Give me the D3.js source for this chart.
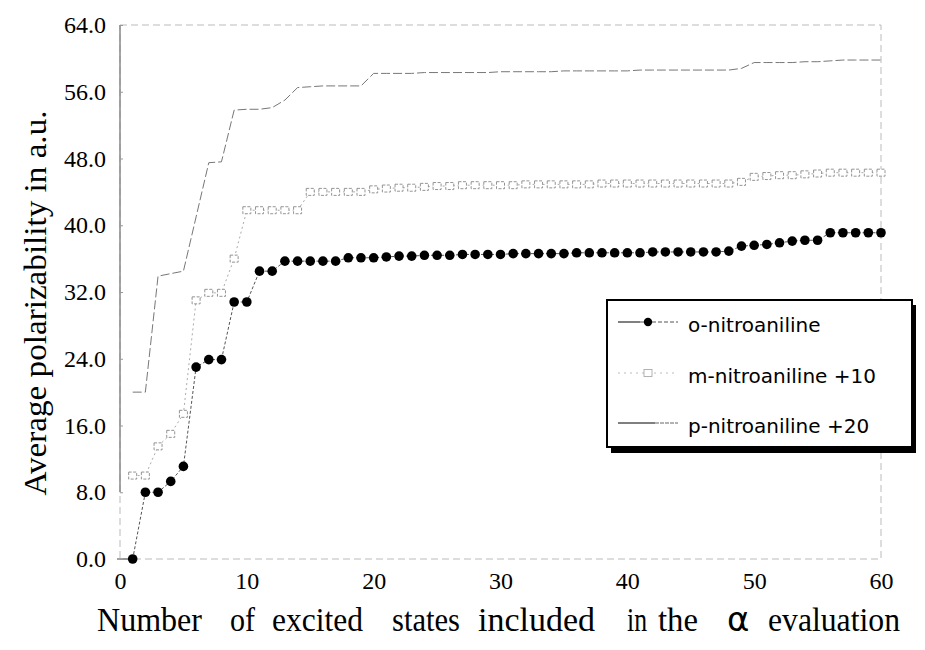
<!DOCTYPE html>
<html>
<head>
<meta charset="utf-8">
<script src="https://cdn.jsdelivr.net/npm/d3@7/dist/d3.min.js"></script>
<style>
body { margin: 0; background: #fff; }
</style>
</head>
<body>
<script>
var states = [1, 2, 3, 4, 5, 6, 7, 8, 9, 10, 11, 12, 13, 14, 15, 16, 17, 18, 19, 20,
              21, 22, 23, 24, 25, 26, 27, 28, 29, 30, 31, 32, 33, 34, 35, 36, 37, 38, 39, 40,
              41, 42, 43, 44, 45, 46, 47, 48, 49, 50, 51, 52, 53, 54, 55, 56, 57, 58, 59, 60];

var orthoValues = [0.0, 8.0, 8.0, 9.3, 11.1, 23.0, 23.9, 23.9, 30.8, 30.8,
                   34.5, 34.5, 35.7, 35.7, 35.7, 35.7, 35.7, 36.1, 36.1, 36.1,
                   36.2, 36.3, 36.3, 36.4, 36.4, 36.4, 36.5, 36.5, 36.5, 36.5,
                   36.6, 36.6, 36.6, 36.6, 36.6, 36.7, 36.7, 36.7, 36.7, 36.7,
                   36.7, 36.8, 36.8, 36.8, 36.8, 36.8, 36.8, 36.9, 37.5, 37.6,
                   37.7, 37.9, 38.1, 38.2, 38.2, 39.1, 39.1, 39.1, 39.1, 39.1];

var metaValues = [10.0, 10.0, 13.5, 15.0, 17.4, 31.0, 31.9, 31.9, 36.0, 41.8,
                  41.8, 41.8, 41.8, 41.8, 44.0, 44.0, 44.0, 44.0, 44.0, 44.3,
                  44.4, 44.5, 44.5, 44.6, 44.7, 44.7, 44.8, 44.8, 44.8, 44.8,
                  44.8, 44.9, 44.9, 44.9, 44.9, 44.9, 44.9, 45.0, 45.0, 45.0,
                  45.0, 45.0, 45.0, 45.0, 45.0, 45.0, 45.0, 45.0, 45.2, 45.8,
                  45.9, 46.0, 46.0, 46.1, 46.2, 46.3, 46.3, 46.3, 46.3, 46.3];

var paraValues = [20.0, 20.0, 33.9, 34.2, 34.5, 41.0, 47.5, 47.6, 53.8, 53.9,
                  53.9, 54.1, 55.0, 56.5, 56.6, 56.7, 56.7, 56.7, 56.7, 58.2,
                  58.2, 58.2, 58.2, 58.3, 58.3, 58.3, 58.3, 58.3, 58.3, 58.4,
                  58.4, 58.4, 58.4, 58.4, 58.5, 58.5, 58.5, 58.5, 58.5, 58.5,
                  58.6, 58.6, 58.6, 58.6, 58.6, 58.6, 58.6, 58.6, 58.8, 59.5,
                  59.5, 59.5, 59.5, 59.6, 59.6, 59.7, 59.8, 59.8, 59.8, 59.8];

var xTicks = [0, 10, 20, 30, 40, 50, 60];
var yTicks = [0, 8, 16, 24, 32, 40, 48, 56, 64];
var legendLabels = ["o-nitroaniline", "m-nitroaniline +10", "p-nitroaniline +20"];
var xLabelWords = ["Number", "of", "excited", "states", "included", "in", "the", "\u03b1", "evaluation"];

var width = 925, height = 650;
var plot = {left: 120, right: 881, top: 25, bottom: 559};

var svg = d3.select("body")
            .append("svg")
            .attr("width", width)
            .attr("height", height)
            .style("font-family", "'Liberation Serif', 'Times New Roman', serif");

var xScale = d3.scaleLinear().domain([0, 60]).range([plot.left, plot.right]);
var yScale = d3.scaleLinear().domain([0, 64]).range([plot.bottom, plot.top]);

function pairs(values) {
  return values.map(function(v, i) { return [states[i], v]; });
}

// plot frame (faint dashed) and left axis
svg.append("rect")
   .attr("x", plot.left)
   .attr("y", plot.top)
   .attr("width", plot.right - plot.left)
   .attr("height", plot.bottom - plot.top)
   .attr("fill", "none")
   .attr("stroke", "#bbb")
   .attr("stroke-width", 1)
   .attr("stroke-dasharray", "7,4");

svg.append("line")
   .attr("x1", plot.left).attr("x2", plot.left)
   .attr("y1", plot.top).attr("y2", yScale(8))
   .attr("stroke", "#888")
   .attr("stroke-width", 1.5);

svg.append("line")
   .attr("x1", plot.left - 3).attr("x2", xScale(1.2))
   .attr("y1", plot.bottom).attr("y2", plot.bottom)
   .attr("stroke", "#666")
   .attr("stroke-width", 1.2);

// y axis
var yAxis = svg.append("g")
   .attr("transform", "translate(" + plot.left + ",0)")
   .call(d3.axisLeft(yScale).tickValues(yTicks).tickFormat(d3.format(".1f")).tickSize(-3).tickPadding(14));
yAxis.select(".domain").remove();
yAxis.selectAll("line").attr("stroke", "#999");
yAxis.selectAll("text")
   .attr("fill", "#000")
   .style("font-size", "24px")
   .style("font-family", "'Liberation Serif', serif");

// x axis
var xAxis = svg.append("g")
   .attr("transform", "translate(0," + plot.bottom + ")")
   .call(d3.axisBottom(xScale).tickValues(xTicks).tickSize(0).tickPadding(13));
xAxis.select(".domain").remove();
xAxis.selectAll("text")
   .attr("fill", "#000")
   .style("font-size", "24px")
   .style("font-family", "'Liberation Serif', serif");

// axis titles
svg.append("text")
   .attr("transform", "translate(46,303) rotate(-90)")
   .attr("text-anchor", "middle")
   .style("font-size", "31px")
   .attr("textLength", 385)
   .attr("lengthAdjust", "spacingAndGlyphs")
   .text("Average polarizability in a.u.");

var wordStarts = [97, 230, 272, 392, 478, 627, 658, 727, 768];
var wordEnds = [202, 255, 363, 460, 595, 647, 698, 753, 900];
svg.append("g").selectAll("text")
   .data(xLabelWords)
   .enter()
   .append("text")
   .attr("x", function(d, i) { return wordStarts[i]; })
   .attr("y", 631)
   .attr("textLength", function(d, i) { return d == "\u03b1" ? null : wordEnds[i] - wordStarts[i]; })
   .attr("lengthAdjust", "spacingAndGlyphs")
   .style("font-family", function(d) { return d == "\u03b1" ? "'DejaVu Sans', sans-serif" : null; })
   .style("font-size", function(d) { return d == "\u03b1" ? "34px" : "34px"; })
   .text(function(d) { return d; });

var line = d3.line()
   .x(function(d) { return xScale(d[0]); })
   .y(function(d) { return yScale(d[1]); });

// p-nitroaniline +20
svg.append("path")
   .datum(pairs(paraValues))
   .attr("d", line)
   .attr("fill", "none")
   .attr("stroke", "#777")
   .attr("stroke-width", 1)
   .attr("stroke-dasharray", "9,3");

// m-nitroaniline +10
svg.append("path")
   .datum(pairs(metaValues))
   .attr("d", line)
   .attr("fill", "none")
   .attr("stroke", "#aaa")
   .attr("stroke-width", 1)
   .attr("stroke-dasharray", "2,3");

svg.append("g").selectAll("rect")
   .data(pairs(metaValues))
   .enter()
   .append("rect")
   .attr("x", function(d) { return xScale(d[0]) - 4; })
   .attr("y", function(d) { return yScale(d[1]) - 3.5; })
   .attr("width", 8)
   .attr("height", 7)
   .attr("fill", "#fff")
   .attr("stroke", "#888")
   .attr("stroke-width", 0.9)
   .attr("stroke-dasharray", "3,1.5");

// o-nitroaniline
svg.append("path")
   .datum(pairs(orthoValues))
   .attr("d", line)
   .attr("fill", "none")
   .attr("stroke", "#555")
   .attr("stroke-width", 1)
   .attr("stroke-dasharray", "3,2");

svg.append("g").selectAll("circle")
   .data(pairs(orthoValues))
   .enter()
   .append("circle")
   .attr("cx", function(d) { return xScale(d[0]); })
   .attr("cy", function(d) { return yScale(d[1]); })
   .attr("r", 4.8)
   .attr("fill", "#000");

// legend with drop shadow
var legend = svg.append("g").attr("transform", "translate(607,300)");
legend.append("rect")
   .attr("x", 4).attr("y", 5)
   .attr("width", 305).attr("height", 148)
   .attr("fill", "#000");
legend.append("rect")
   .attr("x", 0).attr("y", 0)
   .attr("width", 305).attr("height", 147)
   .attr("fill", "#fff")
   .attr("stroke", "#000")
   .attr("stroke-width", 2);

var rowY = [22, 73, 123];

legend.append("line")
   .attr("x1", 11).attr("x2", 33).attr("y1", rowY[0]).attr("y2", rowY[0])
   .attr("stroke", "#000").attr("stroke-width", 1);
legend.append("line")
   .attr("x1", 33).attr("x2", 71).attr("y1", rowY[0]).attr("y2", rowY[0])
   .attr("stroke", "#555").attr("stroke-width", 1).attr("stroke-dasharray", "4,2");
legend.append("circle")
   .attr("cx", 41).attr("cy", rowY[0]).attr("r", 4.2).attr("fill", "#000");

legend.append("line")
   .attr("x1", 11).attr("x2", 71).attr("y1", rowY[1]).attr("y2", rowY[1])
   .attr("stroke", "#bbb").attr("stroke-width", 1).attr("stroke-dasharray", "2,4");
legend.append("rect")
   .attr("x", 37).attr("y", rowY[1] - 3.5).attr("width", 8).attr("height", 7)
   .attr("fill", "#fff").attr("stroke", "#aaa").attr("stroke-width", 0.9);

legend.append("line")
   .attr("x1", 11).attr("x2", 48).attr("y1", rowY[2]).attr("y2", rowY[2])
   .attr("stroke", "#000").attr("stroke-width", 1);
legend.append("line")
   .attr("x1", 48).attr("x2", 71).attr("y1", rowY[2]).attr("y2", rowY[2])
   .attr("stroke", "#666").attr("stroke-width", 1).attr("stroke-dasharray", "4,1");

legend.selectAll("text.label")
   .data(legendLabels)
   .enter()
   .append("text")
   .attr("class", "label")
   .attr("x", 81)
   .attr("y", function(d, i) { return rowY[i] + 10; })
   .style("font-family", "'DejaVu Sans', sans-serif")
   .style("font-size", "20px")
   .text(function(d) { return d; });
</script>
</body>
</html>
